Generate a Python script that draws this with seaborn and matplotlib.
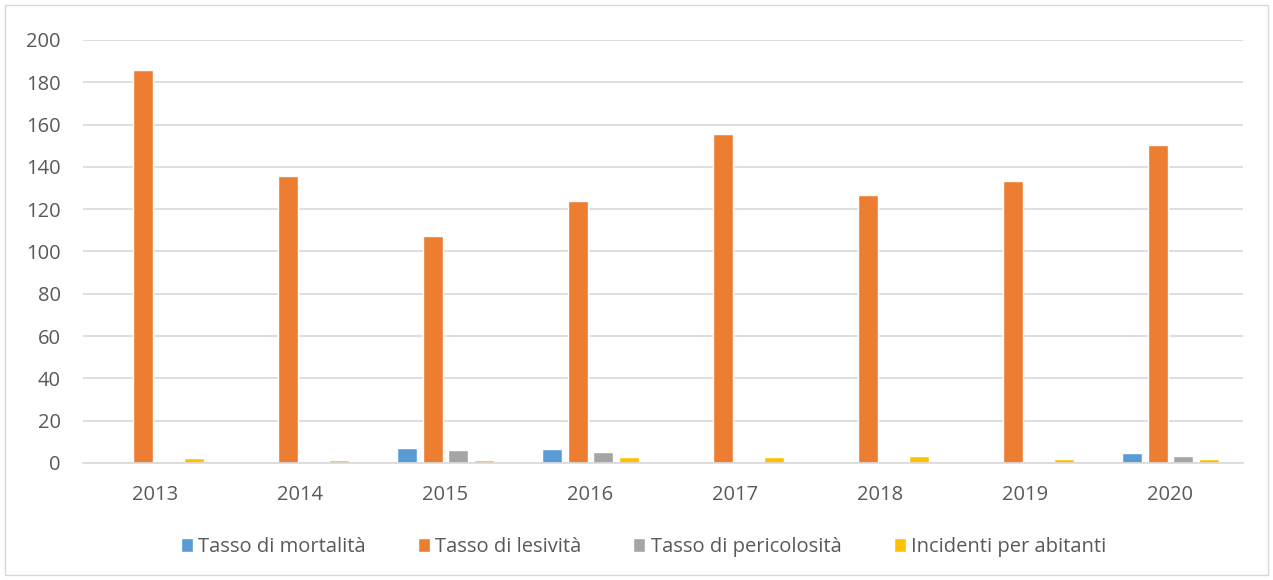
import seaborn as sns
import matplotlib.pyplot as plt
import pandas as pd
from matplotlib.patches import Rectangle

years = ["2013", "2014", "2015", "2016", "2017", "2018", "2019", "2020"]
mortalita = [0, 0, 7.1, 6.8, 0, 0, 0, 4.7]
lesivita = [185.8, 135.7, 107.3, 123.9, 155.6, 126.7, 133.3, 150.4]
pericolosita = [0, 0, 6.1, 5.2, 0, 0, 0, 3.2]
incidenti = [2.4, 1.4, 1.4, 2.8, 2.8, 3.1, 1.7, 2.0]

series = ["Tasso di mortalità", "Tasso di lesività", "Tasso di pericolosità", "Incidenti per abitanti"]
colors = ["#5B9BD5", "#ED7D31", "#A5A5A5", "#FFC000"]

df = pd.DataFrame({"anno": years, series[0]: mortalita, series[1]: lesivita,
                   series[2]: pericolosita, series[3]: incidenti})
long = df.melt(id_vars="anno", var_name="serie", value_name="valore")

sns.set_style("white")
plt.rcParams["font.family"] = ["Open Sans", "DejaVu Sans"]

fig = plt.figure(figsize=(12.73, 5.8), dpi=100)
ax = fig.add_axes([83 / 1273, 1 - 463 / 580, (1243 - 83) / 1273, (463 - 40) / 580])

sns.barplot(data=long, x="anno", y="valore", hue="serie", hue_order=series,
            palette=colors, saturation=1, width=0.71, gap=0.22, ax=ax, legend=True)

ax.set_ylim(0, 200)
ax.set_yticks(range(0, 201, 20))
ax.set_xlim(-0.5, 7.5)
ax.yaxis.grid(True, color="#D9D9D9", linewidth=1.2)
ax.set_axisbelow(True)
for s in ["left", "right", "top"]:
    ax.spines[s].set_visible(False)
ax.spines["bottom"].set_color("#D9D9D9")
ax.spines["bottom"].set_linewidth(1.2)
ax.tick_params(axis="both", length=0, labelsize=14.5, colors="#595959")
ax.tick_params(axis="x", pad=16)
ax.tick_params(axis="y", pad=16)
ax.set_xlabel("")
ax.set_ylabel("")

ax.legend(loc="center", bbox_to_anchor=(0.483, -(547 - 463) / 423), ncol=4, frameon=False,
          fontsize=14.5, handlelength=0.6, handleheight=0.75, handletextpad=0.25,
          columnspacing=2.6, labelcolor="#595959")

fig.patches.append(Rectangle((5 / 1273, 5 / 580), 1263 / 1273, 570 / 580,
                             transform=fig.transFigure, fill=False,
                             edgecolor="#D9D9D9", linewidth=1))

fig.savefig("out.png", dpi=100)
